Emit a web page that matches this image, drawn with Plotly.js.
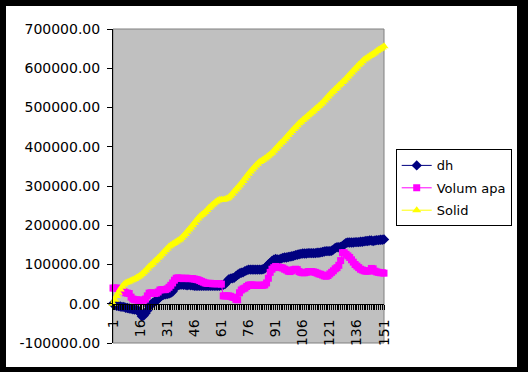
<!DOCTYPE html>
<html>
<head>
<meta charset="utf-8">
<script src="https://cdn.plot.ly/plotly-3.0.1.min.js"></script>
<style>
html,body{margin:0;padding:0;background:#000;width:528px;height:372px;overflow:hidden;}
#chart{position:absolute;left:6px;top:6px;width:511px;height:361px;background:#fff;}
</style>
</head>
<body>
<div id="chart"></div>
<script>
const categories = Array.from({length: 151}, (_, k) => k + 1);

const dh = [
0,-3000,-5000,-6000,-7000,-8000,-8000,-10000,-11000,-12000,
-13000,-14000,-15000,-15000,-17000,-24000,-32000,-30000,-24000,-17000,
-6000,-2000,2000,5000,8000,12000,17000,21000,23000,24000,
25000,26000,28000,31000,38000,46000,48000,48000,49000,48000,
48000,47000,48000,47000,47000,46000,46000,46000,46000,46000,
46000,46000,46000,46000,46000,46000,46000,46000,46000,46000,
47000,48000,50000,56000,62000,64000,65000,66000,70000,74000,
77000,79000,80000,83000,85000,87000,87000,87000,87000,87000,
87000,87000,87000,88000,90000,95000,100000,104000,109000,112000,
114000,113000,113000,115000,117000,118000,118000,119000,120000,121000,
122000,124000,125000,126000,127000,128000,128000,128000,129000,129000,
129000,129000,129000,130000,130000,131000,132000,133000,134000,134000,
134000,135000,138000,142000,144000,144000,145000,147000,151000,155000,
156000,156000,156000,156000,157000,157000,157000,158000,158000,159000,
160000,160000,161000,161000,160000,161000,162000,162000,163000,163000,
164000
];

const volumApa = [
40000,40000,40000,39000,37000,33000,31000,28000,27000,26000,
17000,12000,10000,10000,9000,9000,9000,9000,12000,20000,
27000,28000,27000,26000,27000,30000,35000,36000,36000,36000,
38000,42000,47000,53000,60000,65000,66000,65000,65000,64000,
65000,65000,64000,64000,64000,63000,62000,61000,59000,57000,
55000,53000,52000,52000,52000,51000,51000,51000,51000,51000,
50000,20000,20000,20000,20000,19000,17000,16000,11000,10000,
28000,35000,38000,40000,44000,47000,48000,48000,47000,47000,
47000,47000,47000,47000,48000,53000,65000,80000,88000,92000,
95000,94000,93000,92000,91000,88000,86000,83000,82000,84000,
87000,88000,87000,82000,80000,79000,79000,80000,82000,82000,
82000,81000,80000,78000,76000,75000,73000,71000,70000,72000,
76000,80000,84000,89000,92000,98000,110000,130000,130000,126000,
122000,118000,112000,106000,100000,96000,92000,88000,86000,84000,
83000,83000,84000,90000,89000,83000,81000,80000,79000,79000,
78000
];

const solid = [
0,10000,20000,28000,36000,43000,49000,53000,55000,57000,
59000,61000,63000,66000,69000,72000,76000,80000,85000,90000,
95000,99000,103000,108000,112000,117000,121000,126000,131000,136000,
141000,146000,149000,152000,155000,158000,161000,164000,168000,173000,
178000,184000,189000,194000,200000,206000,212000,217000,222000,226000,
230000,234000,239000,244000,248000,252000,256000,260000,263000,265000,
265000,265000,266000,268000,271000,275000,280000,286000,291000,296000,
301000,307000,313000,319000,325000,331000,337000,342000,347000,352000,
357000,361000,364000,367000,370000,373000,377000,381000,385000,390000,
395000,400000,405000,410000,414000,419000,424000,430000,435000,440000,
445000,450000,455000,460000,464000,468000,472000,476000,480000,484000,
488000,492000,496000,500000,504000,508000,513000,518000,523000,528000,
533000,538000,542000,547000,551000,556000,560000,565000,569000,574000,
579000,584000,589000,594000,599000,604000,609000,613000,618000,622000,
625000,628000,631000,634000,637000,640000,644000,647000,650000,653000,
656000
];

const seriesNames = ["dh", "Volum apa", "Solid"];
const xTickVals = [1,16,31,46,61,76,91,106,121,136,151];
const xTickText = ["1","16","31","46","61","76","91","106","121","136","151"];
const yTickVals = [-100000,0,100000,200000,300000,400000,500000,600000,700000];
const yTickText = ["-100000.00","0.00","100000.00","200000.00","300000.00","400000.00","500000.00","600000.00","700000.00"];

const FONT = "DejaVu Sans, sans-serif";

const traces = [
  {x: categories, y: dh, name: seriesNames[0], type: "scatter", mode: "lines+markers",
   legendgroup: "a", cliponaxis: false,
   line: {color: "#000080", width: 1}, marker: {symbol: "diamond", size: 8, color: "#000080"}},
  {x: categories, y: volumApa, name: seriesNames[1], type: "scatter", mode: "lines+markers",
   legendgroup: "b", cliponaxis: false,
   line: {color: "#FF00FF", width: 1}, marker: {symbol: "square", size: 7, color: "#FF00FF"}},
  {x: categories, y: solid, name: seriesNames[2], type: "scatter", mode: "lines+markers",
   legendgroup: "c", cliponaxis: false,
   line: {color: "#FFFF00", width: 1}, marker: {symbol: "triangle-up", size: 8, color: "#FFFF00"}}
];

const layout = {
  width: 511, height: 361,
  margin: {l: 107, r: 133, t: 23, b: 24, pad: 0, autoexpand: false},
  paper_bgcolor: "#ffffff",
  plot_bgcolor: "#C0C0C0",
  font: {family: FONT, size: 14, color: "#000"},
  showlegend: true,
  legend: {
    x: 1.0432, xanchor: "left", y: 0.6164, yanchor: "top",
    bgcolor: "#ffffff", bordercolor: "#000", borderwidth: 1,
    font: {family: FONT, size: 13, color: "#000"},
    itemwidth: 30,
    traceorder: "grouped", tracegroupgap: 2.5
  },
  xaxis: {
    range: [1, 151],
    anchor: "free", position: 0.125,
    showline: true, linecolor: "#000", linewidth: 1,
    showgrid: false, zeroline: false,
    tickmode: "array", tickvals: xTickVals, ticktext: xTickText,
    ticks: "outside", ticklen: 5, tickcolor: "#000", tickwidth: 1,
    tickangle: -90, ticklabelstandoff: 4,
    tickfont: {family: FONT, size: 14, color: "#000"},
    minor: {tick0: 1, dtick: 1, ticks: "outside", ticklen: 5, tickcolor: "#000", tickwidth: 1, showgrid: false}
  },
  yaxis: {
    range: [-100000, 700000],
    showline: true, linecolor: "#000", linewidth: 1,
    showgrid: false, zeroline: false,
    tickmode: "array", tickvals: yTickVals, ticktext: yTickText,
    ticks: "outside", ticklen: 5, tickcolor: "#000", ticklabelstandoff: 4,
    tickfont: {family: FONT, size: 14, color: "#000"}
  },
  shapes: [
    {type: "rect", xref: "paper", yref: "paper", x0: 0, x1: 1, y0: 0, y1: 1,
     line: {color: "#808080", width: 1}, layer: "below"}
  ]
};

Plotly.newPlot("chart", traces, layout, {displayModeBar: false, staticPlot: true});
</script>
</body>
</html>
